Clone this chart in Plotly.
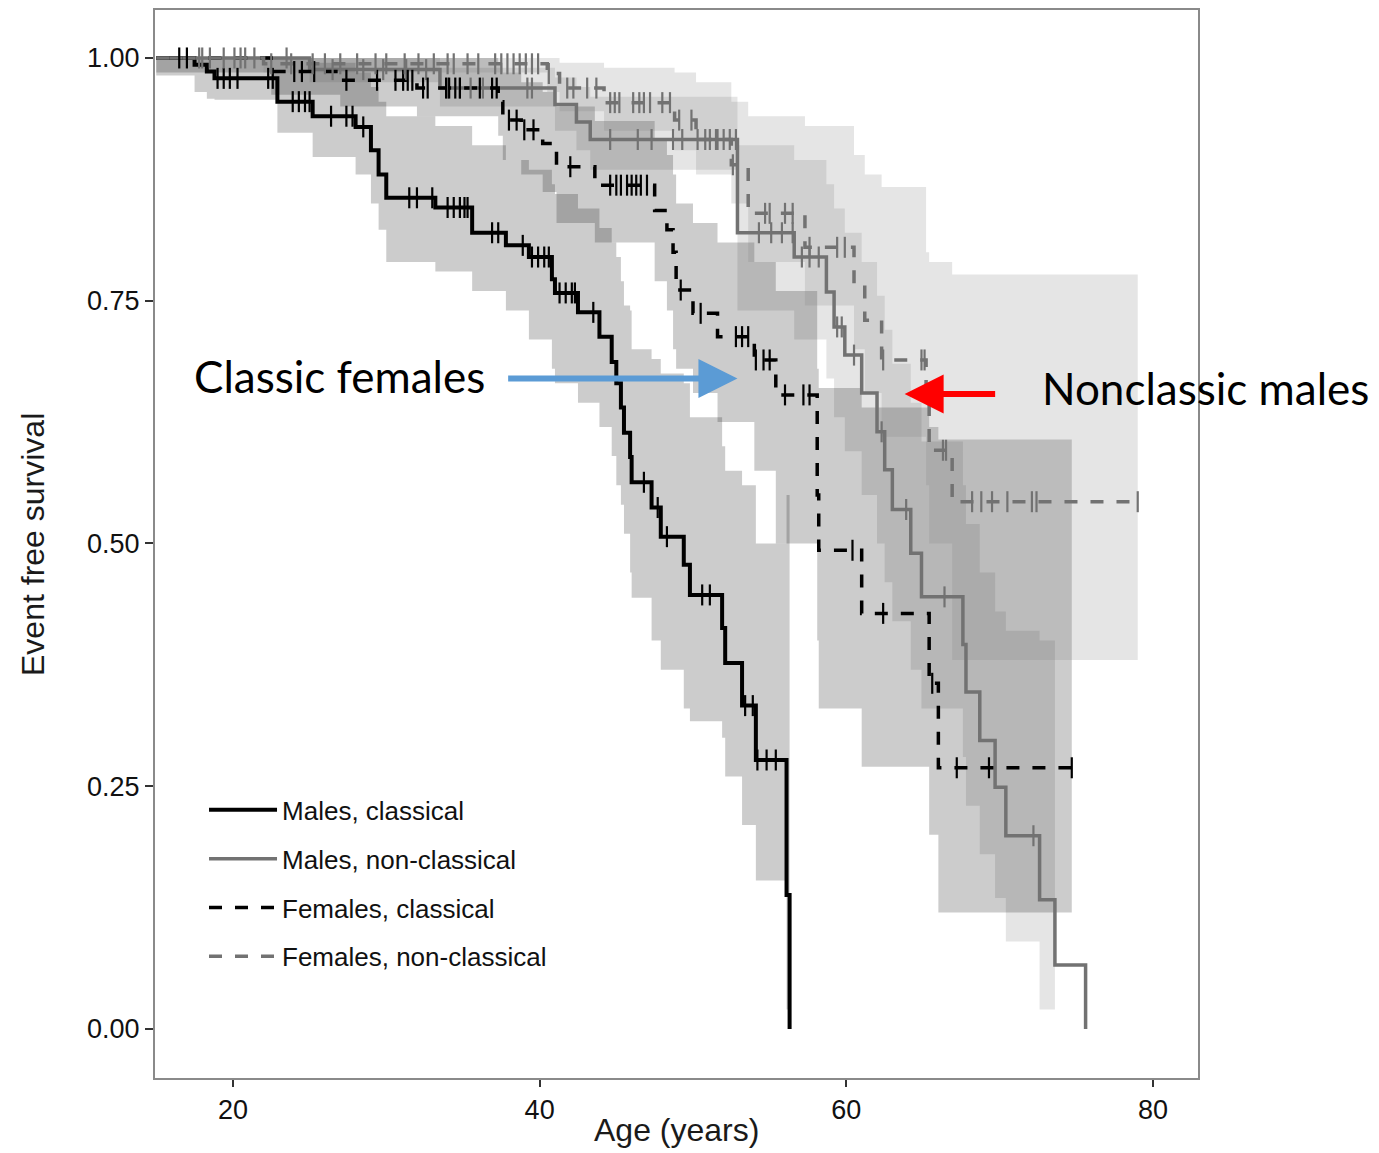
import numpy as np
import plotly.graph_objects as go

# ---------------- data ----------------
group_names = ["Males, classical", "Males, non-classical", "Females, classical", "Females, non-classical"]

# Males, classical: step ages, survival, lower/upper CI
t_mc = [15, 17.5, 18.3, 18.8, 22.9, 25.2, 28.0, 29.0, 29.5, 30.0, 33.2, 35.6, 37.8, 39.3, 40.8, 41.0, 42.5,
        43.9, 44.7, 45.0, 45.3, 45.5, 45.9, 46.0, 47.3, 47.9, 49.4, 49.8, 51.9, 52.1, 53.2, 54.1, 56.1, 56.3]
s_mc = [1.0, 0.993, 0.986, 0.979, 0.955, 0.94, 0.929, 0.905, 0.88, 0.856, 0.846, 0.82, 0.807, 0.795, 0.772, 0.758,
        0.738, 0.713, 0.687, 0.665, 0.64, 0.614, 0.589, 0.563, 0.537, 0.507, 0.478, 0.447, 0.413, 0.377, 0.333,
        0.277, 0.138, 0.0]
lo_mc = [0.982, 0.965, 0.958, 0.957, 0.923, 0.898, 0.88, 0.85, 0.823, 0.79, 0.78, 0.76, 0.74, 0.71, 0.68, 0.665,
         0.645, 0.62, 0.59, 0.56, 0.54, 0.51, 0.47, 0.444, 0.40, 0.37, 0.33, 0.317, 0.30, 0.26, 0.21, 0.153, 0.02, 0.0]
hi_mc = [1.0, 1.0, 1.0, 1.0, 1.0, 0.995, 0.985, 0.97, 0.955, 0.94, 0.93, 0.91, 0.895, 0.885, 0.87, 0.86, 0.845,
         0.825, 0.81, 0.795, 0.77, 0.745, 0.74, 0.70, 0.69, 0.675, 0.665, 0.63, 0.60, 0.575, 0.56, 0.50, 0.55, 0.55]
c_mc = [16.5, 17.0, 19.0, 19.4, 19.8, 20.3, 22.3, 22.6, 23.9, 24.3, 24.7, 25.0, 26.4, 27.4, 27.8, 28.5, 31.5,
        32.0, 33.0, 34.0, 34.4, 34.8, 35.1, 35.3, 36.9, 37.3, 38.9, 39.5, 39.9, 40.3, 40.6, 41.3, 41.7, 42.1,
        42.3, 43.5, 46.8, 47.7, 48.3, 50.6, 51.1, 53.4, 53.9, 54.2, 54.8, 55.4]

# Males, non-classical
t_mn = [15, 25.0, 33.5, 41.0, 42.4, 43.3, 52.9, 56.6, 58.7, 59.2, 59.9, 61.0, 62.0, 62.5, 63.0, 64.2, 64.9,
        67.6, 67.8, 68.7, 69.7, 70.4, 72.6, 73.6, 75.6]
s_mn = [1.0, 0.988, 0.969, 0.952, 0.934, 0.916, 0.82, 0.795, 0.759, 0.723, 0.694, 0.655, 0.615, 0.576, 0.535,
        0.49, 0.445, 0.396, 0.347, 0.297, 0.249, 0.199, 0.133, 0.066, 0.0]
lo_mn = [1.0, 0.975, 0.95, 0.925, 0.905, 0.885, 0.74, 0.71, 0.67, 0.63, 0.595, 0.55, 0.50, 0.46, 0.42, 0.37,
         0.33, 0.28, 0.23, 0.18, 0.135, 0.09, 0.02, 0.066, 0.0]
hi_mn = [1.0, 1.0, 0.99, 0.98, 0.97, 0.96, 0.91, 0.895, 0.87, 0.845, 0.82, 0.79, 0.755, 0.72, 0.685, 0.645,
         0.605, 0.56, 0.52, 0.47, 0.43, 0.41, 0.40, 0.066, 0.0]
c_mn = [18.0, 20.5, 23.5, 26.5, 28.5, 29.8, 31.3, 32.6, 34.0, 34.8, 35.5, 36.3, 39.2, 39.5, 44.6, 46.4, 47.3,
        48.7, 49.3, 50.3, 51.1, 51.6, 52.0, 52.4, 52.8, 54.3, 55.1, 55.8, 56.5, 57.1, 57.6, 58.2, 59.4, 59.7,
        60.5, 62.3, 63.9, 66.4, 72.2]

# Females, classical
t_fc = [15, 22.5, 27.0, 32.0, 37.3, 37.6, 38.8, 40.2, 41.1, 43.6, 47.5, 48.3, 48.7, 48.9, 50.0, 51.6, 54.0,
        55.4, 58.1, 58.2, 61.0, 65.4, 66.0, 74.7]
s_fc = [1.0, 0.986, 0.977, 0.969, 0.955, 0.936, 0.926, 0.912, 0.888, 0.869, 0.843, 0.823, 0.80, 0.761, 0.737,
        0.713, 0.689, 0.653, 0.55, 0.493, 0.428, 0.356, 0.269, 0.269]
lo_fc = [0.985, 0.962, 0.95, 0.94, 0.92, 0.895, 0.88, 0.862, 0.83, 0.81, 0.77, 0.74, 0.70, 0.68, 0.655, 0.625,
         0.575, 0.50, 0.40, 0.33, 0.27, 0.20, 0.12, 0.12]
hi_fc = [1.0, 1.0, 1.0, 1.0, 0.995, 0.985, 0.975, 0.965, 0.95, 0.935, 0.915, 0.90, 0.88, 0.85, 0.83, 0.81,
         0.79, 0.76, 0.68, 0.66, 0.64, 0.62, 0.607, 0.607]
c_fc = [24.0, 24.5, 25.3, 27.4, 29.4, 30.6, 31.1, 31.4, 31.7, 32.4, 32.7, 33.9, 34.1, 34.5, 34.8, 36.1, 36.9,
        37.2, 38.0, 38.5, 39.0, 39.6, 42.0, 44.6, 45.0, 45.3, 45.7, 46.0, 46.3, 46.6, 47.0, 49.2, 50.5, 52.8,
        53.2, 53.6, 54.1, 54.6, 55.0, 56.0, 57.2, 57.6, 60.4, 62.4, 65.6, 67.2, 69.3, 74.7]

# Females, non-classical
t_fn = [15, 22.0, 40.5, 41.3, 44.2, 48.8, 50.2, 52.5, 53.6, 57.3, 60.5, 61.2, 62.3, 65.2, 65.4, 66.9, 79.0]
s_fn = [1.0, 0.994, 0.984, 0.969, 0.954, 0.936, 0.916, 0.89, 0.84, 0.805, 0.768, 0.73, 0.689, 0.65, 0.596,
        0.543, 0.543]
lo_fn = [1.0, 0.985, 0.965, 0.945, 0.925, 0.905, 0.88, 0.85, 0.79, 0.745, 0.70, 0.655, 0.61, 0.56, 0.50,
         0.38, 0.38]
hi_fn = [1.0, 1.0, 1.0, 0.995, 0.99, 0.985, 0.975, 0.955, 0.94, 0.93, 0.90, 0.88, 0.867, 0.80, 0.79,
         0.777, 0.777]
c_fn = [17.8, 18.5, 19.4, 20.1, 20.8, 21.4, 22.5, 23.8, 25.2, 26.0, 27.0, 28.1, 29.3, 30.0, 31.2, 32.1, 33.1,
        34.0, 34.4, 35.3, 36.0, 37.1, 37.5, 37.9, 38.3, 38.7, 39.1, 39.5, 39.9, 40.6, 41.8, 42.2, 43.1, 43.7,
        44.6, 44.9, 45.2, 46.1, 46.5, 46.8, 47.2, 48.0, 48.5, 49.1, 49.9, 50.8, 51.5, 52.6, 54.7, 55.0, 56.0,
        56.5, 57.6, 59.4, 59.9, 62.4, 64.9, 65.1, 66.3, 66.5, 68.2, 68.8, 69.5, 70.5, 72.1, 72.4, 79.0]

x_ticks = [20, 40, 60, 80]
y_ticks = [0.0, 0.25, 0.50, 0.75, 1.00]
y_tick_text = ["0.00", "0.25", "0.50", "0.75", "1.00"]

# ---------------- styling ----------------
groups = [
    dict(name=group_names[0], t=t_mc, s=s_mc, lo=lo_mc, hi=hi_mc, c=c_mc, color="#000000",
         band="rgba(0,0,0,0.2)", dash="solid", width=4),
    dict(name=group_names[1], t=t_mn, s=s_mn, lo=lo_mn, hi=hi_mn, c=c_mn, color="#727272",
         band="rgba(127,127,127,0.2)", dash="solid", width=3.5),
    dict(name=group_names[2], t=t_fc, s=s_fc, lo=lo_fc, hi=hi_fc, c=c_fc, color="#000000",
         band="rgba(0,0,0,0.2)", dash="13px,13px", width=3.5),
    dict(name=group_names[3], t=t_fn, s=s_fn, lo=lo_fn, hi=hi_fn, c=c_fn, color="#727272",
         band="rgba(127,127,127,0.2)", dash="13px,13px", width=3.5),
]

fig = go.Figure()

# confidence bands
for g in groups:
    fig.add_trace(go.Scatter(x=g["t"], y=g["lo"], mode="lines", line=dict(width=0, shape="hv"),
                             hoverinfo="skip", showlegend=False))
    fig.add_trace(go.Scatter(x=g["t"], y=g["hi"], mode="lines", line=dict(width=0, shape="hv"),
                             fill="tonexty", fillcolor=g["band"], hoverinfo="skip", showlegend=False))

# survival curves
for i, g in enumerate(groups):
    fig.add_trace(go.Scatter(x=g["t"], y=g["s"], mode="lines", name=g["name"],
                             line=dict(color=g["color"], width=g["width"], shape="hv", dash=g["dash"]),
                             legendgroup=g["name"], legendrank=i + 1))

# censor marks
for g in groups:
    t = np.array(g["t"])
    s = np.array(g["s"])
    cx = np.array(g["c"])
    idx = np.searchsorted(t, cx, side="right") - 1
    cy = s[idx]
    fig.add_trace(go.Scatter(x=cx, y=cy, mode="markers", showlegend=False, hoverinfo="skip",
                             marker=dict(symbol="line-ns", size=15, line=dict(width=2.2, color=g["color"]))))

# arrows + labels
fig.add_annotation(x=52.9, y=0.670, ax=37.85, ay=0.670, xref="x", yref="y", axref="x", ayref="y",
                   text="", showarrow=True, arrowhead=2, arrowsize=1.3, arrowwidth=6, arrowcolor="#5b9bd5")
fig.add_annotation(x=36.6, y=0.672, xref="x", yref="y", text="Classic females", showarrow=False,
                   xanchor="right", yanchor="middle", font=dict(family="Lato", size=44, color="#000000"))
fig.add_annotation(x=63.8, y=0.654, ax=69.8, ay=0.654, xref="x", yref="y", axref="x", ayref="y",
                   text="", showarrow=True, arrowhead=2, arrowsize=1.3, arrowwidth=6, arrowcolor="#ff0000")
fig.add_annotation(x=72.6, y=0.660, xref="x", yref="y", text="Nonclassic males", showarrow=False,
                   xanchor="left", yanchor="middle", font=dict(family="Lato", size=44, color="#000000"))

title_font = dict(family="Liberation Sans, Arial, sans-serif", size=32, color="#1a1a1a")
fig.add_annotation(x=0.5, y=-0.0487, xref="paper", yref="paper", text="Age (years)", showarrow=False,
                   xanchor="center", yanchor="middle", font=title_font)
fig.add_annotation(x=-0.117, y=0.5, xref="paper", yref="paper", text="Event free survival", showarrow=False,
                   xanchor="center", yanchor="middle", textangle=-90, font=title_font)

axis_font = dict(family="Liberation Sans, Arial, sans-serif", size=27, color="#111111")
fig.update_xaxes(range=[14.92, 82.93], tickvals=x_ticks, ticks="outside", ticklen=7, tickwidth=2,
                 tickcolor="#333333", showgrid=False, zeroline=False, showline=True, mirror=True,
                 linecolor="#8a8a8a", linewidth=2, tickfont=axis_font, automargin=False)
fig.update_yaxes(range=[-0.0505, 1.0494], tickvals=y_ticks, ticktext=y_tick_text, ticks="outside", ticklen=8,
                 tickwidth=2, tickcolor="#333333", showgrid=False, zeroline=False, showline=True, mirror=True,
                 linecolor="#8a8a8a", linewidth=2, tickfont=axis_font, automargin=False)

# the page body adds an 8px offset; compensate so the plot area lands where the reference has it
fig.update_layout(
    width=1371, height=1145,
    margin=dict(l=147, r=181, t=2, b=75),
    paper_bgcolor="white", plot_bgcolor="white",
    legend=dict(x=0.047, y=0.273, xanchor="left", yanchor="top", bgcolor="rgba(0,0,0,0)",
                font=dict(family="Liberation Sans, Arial, sans-serif", size=26, color="#111111"),
                tracegroupgap=12, itemwidth=68),
)

fig.write_html("out.html")
